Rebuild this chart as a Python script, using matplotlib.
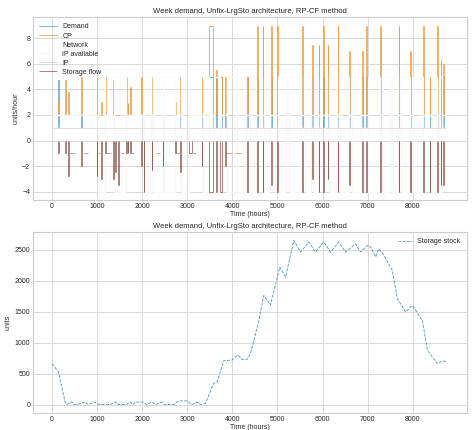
import numpy as np
import matplotlib
matplotlib.use('Agg')
import matplotlib.pyplot as plt

plt.style.use('seaborn-v0_8-whitegrid')

# 一年 = 52周 x 168小时
t_end = 8736

# 事件 (开始, 结束) 小时
ev_start = [133, 289, 355, 650, 990, 1090, 1175, 1360, 1400, 1467, 1640, 1680, 1730, 1980, 2030, 2210,
            2455, 2730, 2840, 3040, 3320, 3490, 3640, 3730, 3840, 4330, 4545, 4670, 4855, 4990, 5545,
            5765, 5915, 6010, 6115, 6335, 6595, 6875, 6965, 7285, 7690, 7950, 8235, 8375, 8545, 8620, 8670]
ev_end = [150, 300, 370, 665, 1005, 1105, 1190, 1375, 1410, 1480, 1660, 1695, 1745, 1995, 2045, 2225,
          2470, 2745, 2855, 3100, 3335, 3575, 3655, 3760, 3855, 4345, 4560, 4685, 4870, 5005, 5560,
          5780, 5930, 6025, 6130, 6350, 6610, 6890, 6980, 7300, 7705, 7965, 8250, 8390, 8560, 8635, 8685]
cp_peak = [3.0, 4.7, 3.8, 5.0, 5.0, 3.0, 5.0, 4.7, 2.0, 2.0, 5.0, 2.9, 4.2, 5.0, 4.7, 5.0,
           5.0, 3.0, 5.0, 2.0, 5.0, 9.0, 5.5, 5.0, 5.0, 5.0, 9.0, 9.0, 9.0, 9.0, 9.0,
           7.5, 7.5, 9.0, 7.5, 9.0, 7.0, 7.0, 9.0, 9.0, 9.0, 7.0, 9.0, 5.0, 9.0, 6.3, 6.0]
sto_low = [-1.0, -1.0, -2.8, -2.0, -2.8, -3.0, -1.0, -3.0, -2.5, -3.5, -1.0, -1.0, -1.0, -2.0, -4.0, -2.3,
           -2.0, -1.0, -2.5, -1.0, -2.0, -4.0, -4.0, -4.0, -2.0, -4.0, -4.0, -4.0, -3.5, -4.0, -4.0,
           -3.0, -4.0, -4.0, -3.0, -4.0, -3.5, -4.0, -4.0, -4.0, -4.0, -4.0, -4.0, -4.0, -4.0, -3.5, -3.5]
dem_peak = [4.7, 1, 1, 2, 1, 1, 1, 1, 1, 1, 1, 1, 1, 1, 1, 1,
            1, 1, 2, 1, 2, 5, 5, 5, 2, 5, 5, 5, 5, 5, 2,
            5, 5, 5, 5, 5, 5, 5, 5, 5, 3, 5, 5, 2, 5, 5, 5]

# 网络供给为5的时段
net_start = [1010, 1380, 2050, 2230, 2480, 2860, 3350, 3600, 3870, 4100, 4400, 4700, 5020, 5250, 5600,
             5800, 6150, 6380, 6650, 7000, 7320, 7550, 7750, 8000, 8420, 8580]
net_end = [1170, 1630, 2200, 2450, 2720, 3030, 3480, 3720, 4050, 4300, 4530, 4840, 5200, 5530, 5750,
           5900, 6320, 6580, 6860, 7270, 7500, 7680, 7930, 8220, 8530, 8650]

# 储能放电 -1 的时段
neg_start = [380, 700, 1020, 1200, 1520, 1760, 2300, 2760, 3120, 3860, 4060]
neg_end = [500, 800, 1060, 1300, 1600, 1820, 2400, 2820, 3200, 4000, 4200]

# 储能存量
stock_t = [0, 140, 289, 330, 400, 437, 480, 560, 733, 800, 956, 1000, 1100, 1300, 1400, 1480, 1650,
           1733, 1800, 1844, 2030, 2100, 2215, 2300, 2437, 2500, 2700, 2807, 2993, 3100, 3215, 3300,
           3400, 3585, 3659, 3807, 3993, 4118, 4215, 4326, 4400, 4585, 4696, 4844, 5052, 5178, 5363,
           5511, 5696, 5844, 6030, 6178, 6363, 6511, 6733, 6844, 6993, 7067, 7178, 7252, 7363, 7548,
           7659, 7844, 7992, 8215, 8326, 8548, 8650, 8736]
stock_v = [660, 530, 40, 0, 30, 45, 0, 0, 45, 0, 40, 10, 0, 0, 45, 0, 0,
           45, 0, 40, 40, 0, 45, 0, 40, 0, 0, 60, 60, 0, 40, 0,
           20, 343, 359, 708, 719, 800, 730, 730, 816, 1352, 1763, 1602, 2220, 2059, 2650,
           2462, 2623, 2462, 2623, 2462, 2623, 2462, 2597, 2462, 2570, 2543, 2382, 2516, 2408, 2167,
           1710, 1495, 1602, 1360, 876, 661, 700, 700]


def step_series(base, starts, ends, vals):
    pts = sorted(zip(starts, ends, vals))
    t = [0]
    v = [base]
    for s, e, val in pts:
        t += [s, e]
        v += [val, base]
    t.append(t_end)
    v.append(base)
    return t, v


n_net = len(net_start)
dem_t, dem_v = step_series(1, ev_start, ev_end, dem_peak)
net_t, net_v = step_series(1, net_start, net_end, [5] * n_net)
ipa_t, ipa_v = step_series(2, net_start, net_end, [-4] * n_net)

plt.rcParams['font.size'] = 5
title = 'Week demand, Unfix-LrgSto architecture, RP-CF method'
fig = plt.figure(figsize=(4.72, 4.30), dpi=100)

ax1 = fig.add_axes([0.07, 0.535, 0.919, 0.425])
lw = 0.7
ax1.plot(dem_t, dem_v, drawstyle='steps-post', color='#1f77b4', lw=lw, alpha=0.55, label='Demand')
# CP: 尖峰
cp_c = '#f39a3c'
ax1.vlines(ev_start + ev_end, [2] * (2 * len(ev_start)), cp_peak + cp_peak, color=cp_c, lw=lw, alpha=0.8,
           label='CP')
ax1.hlines(cp_peak, ev_start, ev_end, color=cp_c, lw=lw, alpha=0.8)
ax1.hlines([2] * 4, [2960, 1270, 200, 3940], [3120, 1330, 260, 4000], color=cp_c, lw=lw, alpha=0.4)
ax1.plot(net_t, net_v, drawstyle='steps-post', color='#fbfbfb', lw=1.0, label='Network')
ax1.plot(ipa_t, ipa_v, drawstyle='steps-post', color='#f7f7f7', lw=1.0, label='IP available')
ax1.plot([0, t_end], [1, 1], color='#e6dcda', lw=lw, label='IP')
# 储能流量: 向下尖峰
sto_c = '#8c564b'
ax1.vlines(ev_start + ev_end, [0] * (2 * len(ev_start)), sto_low + sto_low, color=sto_c, lw=lw, alpha=0.75,
           label='Storage flow')
ax1.hlines(sto_low, ev_start, ev_end, color=sto_c, lw=lw, alpha=0.75)
ax1.hlines([-1] * len(neg_start), neg_start, neg_end, color=sto_c, lw=lw, alpha=0.55)
ax1.set_xlim(-422, 9200)
ax1.set_ylim(-4.65, 9.65)
ax1.set_title(title, fontsize=5.5, pad=3)
ax1.set_xlabel('Time (hours)', labelpad=1)
ax1.set_ylabel('units/hour', labelpad=2)
ax1.legend(loc='upper left', fontsize=5, handlelength=2.5, labelspacing=0.3)

ax2 = fig.add_axes([0.07, 0.04, 0.919, 0.42])
ax2.plot(stock_t, stock_v, color='#1f77b4', lw=0.6, ls='--', alpha=0.8, label='Storage stock')
ax2.set_xlim(-422, 9200)
ax2.set_title(title, fontsize=5.5, pad=3)
ax2.set_xlabel('Time (hours)', labelpad=1)
ax2.set_ylabel('units', labelpad=2)
ax2.legend(loc='upper right', fontsize=5)

for ax in (ax1, ax2):
    ax.set_xticks(range(0, 9000, 1000))
    ax.tick_params(pad=2)
    ax.grid(color='#d9d9d9', lw=0.7)
    for s in ax.spines.values():
        s.set_visible(True)
        s.set_color('#cccccc')
        s.set_linewidth(0.8)

fig.savefig('out.png', dpi=100)
